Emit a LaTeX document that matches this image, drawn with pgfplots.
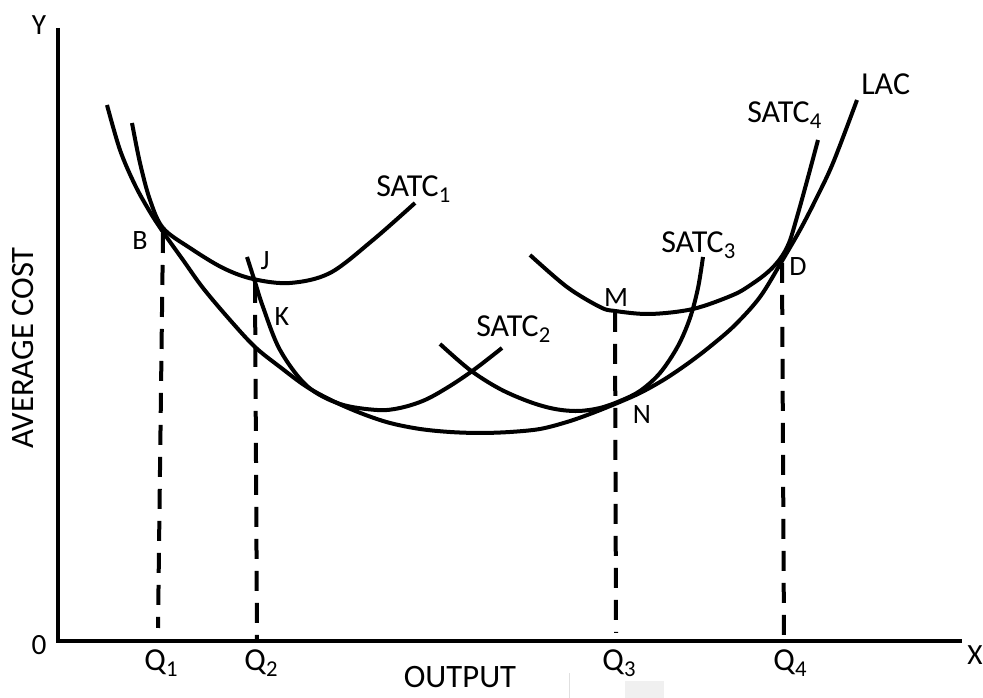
\documentclass[border=0pt]{standalone}
\usepackage{pgfplots}
\pgfplotsset{compat=1.18}
\usepackage{fontspec}
\setmainfont{Carlito}
\newcommand\sub[1]{\raisebox{-4.5pt}{\fontsize{17}{17}\selectfont #1}}
\tikzset{
    curve/.style={black, line width=3pt, smooth, tension=0.55},
    guide/.style={black, line width=3pt, dash pattern=on 15pt off 9pt},
    big/.style={font=\fontsize{24.5}{28}\selectfont},
    lab/.style={font=\fontsize{24}{28}\selectfont, inner sep=0pt},
    ax/.style={font=\fontsize{22}{26}\selectfont, inner sep=0pt},
    pt/.style={font=\fontsize{21}{24}\selectfont, inner sep=0pt},
}
\begin{document}
\begin{tikzpicture}
\path[use as bounding box] (0,0) rectangle (737.25pt,523.5pt);
\begin{axis}[
    hide axis, scale only axis,
    width=737.25pt, height=523.5pt,
    xmin=0, xmax=983, ymin=0, ymax=698,
    clip=false,
]

% faint scan artefacts at the bottom
\fill[black!6] (axis cs:625,0) rectangle (axis cs:664,17);
\draw[black!12, line width=0.6pt] (axis cs:569,0) -- (axis cs:569,25);

% axes
\addplot[black, line width=3pt, line join=miter] coordinates {(58,670) (58,57) (962,57)};

% LAC
\addplot[curve] coordinates {(107,593) (120,548) (135,513) (150,486) (163,466) (183,438) (203,410) (230,378) (255,351) (280,331) (307,311) (335,296) (363,284) (390,275) (420,269) (450,266) (480,265) (510,266) (540,269) (567,276) (590,284) (615,294) (640,305) (665,319) (690,336) (712,353) (735,373) (760,401) (782,437) (800,468) (815,497) (833,535) (857,598)};

% SATC1
\addplot[curve] coordinates {(132,575) (140,535) (150,498) (163,470) (190,450) (223,430) (253,419) (290,415) (330,425) (373,458) (415,495)};

% SATC2
\addplot[curve] coordinates {(247,441) (255,416) (263,391) (280,348) (307,312) (340,294) (377,288) (400,290) (425,298) (450,312) (475,329) (502,350)};

% SATC3
\addplot[curve] coordinates {(440,354) (470,328) (500,309) (530,296) (555,289) (578,287) (600,290) (620,297) (640,307) (660,325) (678,352) (690,380) (698,410) (703,441)};

% SATC4
\addplot[curve] coordinates {(530,443) (567,411) (600,391) (615,387) (650,384) (693,389) (733,403) (752,414) (768,426) (780,439) (789,455) (797,481) (807,517) (818,558)};

% dashed guides
\addplot[guide] coordinates {(163,465) (158,70)};
\addplot[guide] coordinates {(255,415) (257,58)};
\addplot[guide] coordinates {(615,386) (616,65)};
\addplot[guide] coordinates {(782,435) (784,58)};

% axis texts
\node[ax] at (axis cs:39,673) {Y};
\node[ax] at (axis cs:39,53) {0};
\node[ax] at (axis cs:975,43) {X};
\node[big, rotate=90] at (axis cs:23,350) {AVERAGE COST};
\node[big, anchor=base] at (axis cs:460,10) {OUTPUT};
\node[lab] at (axis cs:161,35) {Q\sub{1}};
\node[lab] at (axis cs:261,35) {Q\sub{2}};
\node[lab] at (axis cs:619,35) {Q\sub{3}};
\node[lab] at (axis cs:790,35) {Q\sub{4}};

% point labels
\node[pt] at (axis cs:140,457) {B};
\node[pt] at (axis cs:265,437) {J};
\node[pt] at (axis cs:282,381) {K};
\node[pt] at (axis cs:616,400) {M};
\node[pt] at (axis cs:642,283) {N};
\node[pt] at (axis cs:798,431) {D};

% curve labels
\node[lab, anchor=base west] at (axis cs:376,501) {SATC\sub{1}};
\node[lab, anchor=base west] at (axis cs:476,361) {SATC\sub{2}};
\node[lab, anchor=base west] at (axis cs:661,445) {SATC\sub{3}};
\node[lab, anchor=base west] at (axis cs:747,575) {SATC\sub{4}};
\node[lab, anchor=base west] at (axis cs:861,603) {LAC};

\end{axis}
\end{tikzpicture}
\end{document}
